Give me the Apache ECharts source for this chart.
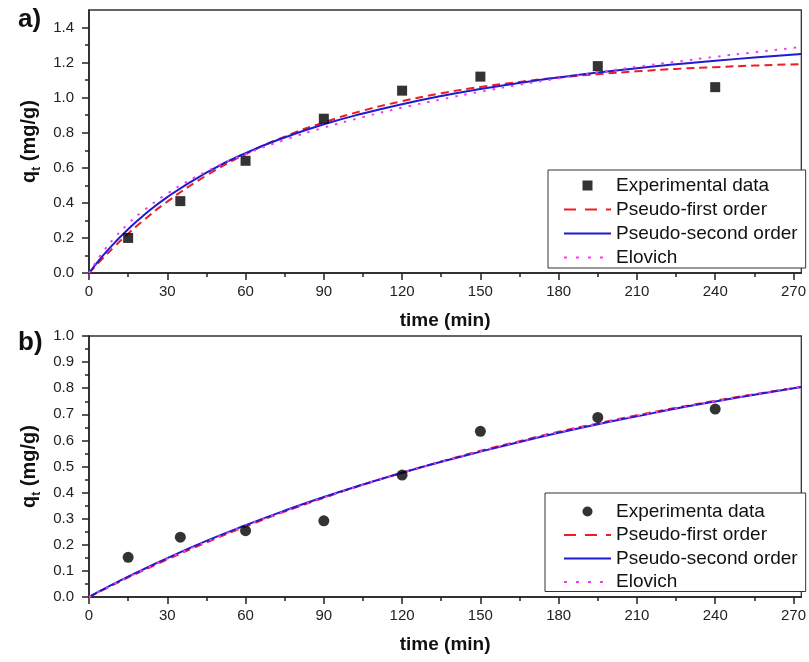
<!DOCTYPE html>
<html>
<head>
<meta charset="utf-8">
<script src="https://cdn.jsdelivr.net/npm/echarts@6/dist/echarts.min.js"></script>
<style>
html,body{margin:0;padding:0;background:#fff;}
#chart{width:809px;height:662px;}
</style>
</head>
<body>
<div id="chart"></div>
<script>
// ---- Data ----
const xMajorTicks = [0, 30, 60, 90, 120, 150, 180, 210, 240, 270];
const xMinorTicks = [15, 45, 75, 105, 135, 165, 195, 225, 255];
const yTopMajorTicks = [0, 0.2, 0.4, 0.6, 0.8, 1.0, 1.2, 1.4];
const yTopMinorTicks = [0.1, 0.3, 0.5, 0.7, 0.9, 1.1, 1.3];
const yBotMajorTicks = [0, 0.1, 0.2, 0.3, 0.4, 0.5, 0.6, 0.7, 0.8, 0.9, 1.0];
const yBotMinorTicks = [0.05, 0.15, 0.25, 0.35, 0.45, 0.55, 0.65, 0.75, 0.85, 0.95];

// panel a) experimental points
const expTimeA = [15, 35, 60, 90, 120, 150, 195, 240];
const expQA = [0.20, 0.41, 0.64, 0.88, 1.04, 1.12, 1.18, 1.06];
// panel b) experimental points
const expTimeB = [15, 35, 60, 90, 120, 150, 195, 240];
const expQB = [0.152, 0.229, 0.254, 0.292, 0.467, 0.635, 0.688, 0.720];

// model curves
const curveTime = [0, 5, 10, 15, 20, 30, 45, 60, 75, 90, 105, 120, 135, 150, 165, 180, 195, 210, 225, 240, 255, 273];
const pfoA = [0, 0.080, 0.154, 0.224, 0.289, 0.407, 0.556, 0.678, 0.778, 0.859, 0.926, 0.980, 1.025, 1.061, 1.090, 1.115, 1.134, 1.150, 1.164, 1.174, 1.183, 1.191];
const psoA = [0, 0.093, 0.175, 0.250, 0.317, 0.433, 0.573, 0.684, 0.773, 0.848, 0.910, 0.963, 1.009, 1.049, 1.084, 1.115, 1.143, 1.168, 1.190, 1.210, 1.229, 1.249];
const eloA = [0, 0.113, 0.204, 0.280, 0.345, 0.453, 0.579, 0.678, 0.759, 0.829, 0.889, 0.943, 0.990, 1.034, 1.074, 1.110, 1.144, 1.176, 1.205, 1.233, 1.259, 1.289];
const pfoB = [0, 0.025, 0.050, 0.075, 0.098, 0.144, 0.209, 0.270, 0.327, 0.380, 0.430, 0.476, 0.519, 0.560, 0.597, 0.633, 0.665, 0.696, 0.725, 0.752, 0.777, 0.805];
const psoB = [0, 0.027, 0.053, 0.078, 0.102, 0.149, 0.215, 0.275, 0.331, 0.383, 0.431, 0.476, 0.518, 0.557, 0.594, 0.629, 0.662, 0.692, 0.722, 0.749, 0.775, 0.805];
const eloB = [0, 0.026, 0.052, 0.077, 0.100, 0.147, 0.212, 0.273, 0.329, 0.381, 0.430, 0.476, 0.518, 0.558, 0.595, 0.631, 0.663, 0.694, 0.723, 0.750, 0.776, 0.805];

const namesA = ['Experimental data', 'Pseudo-first order', 'Pseudo-second order', 'Elovich'];
const namesB = ['Experimenta data', 'Pseudo-first order', 'Pseudo-second order', 'Elovich'];

// ---- Build options ----
const FONT = 'Liberation Sans, Arial, Helvetica, sans-serif';
const AXC = '#222';
const RED = '#f01c24', BLUE = '#1c1cd0', MAG = '#f23cf2';
const zip = (xs, ys) => xs.map((x, i) => [x, ys[i]]);

function xAxes(gi) {
  const base = {
    type: 'value', gridIndex: gi, min: 0, max: 273, interval: 30, position: 'bottom',
    splitLine: {show: false}
  };
  return [
    Object.assign({}, base, {
      axisLine: {show: true, onZero: false, lineStyle: {color: AXC, width: 1.6}},
      axisTick: {show: true, inside: false, length: 7, customValues: xMajorTicks, lineStyle: {color: AXC, width: 1.5}},
      axisLabel: {show: true, customValues: xMajorTicks, margin: 11, fontSize: 15, color: '#222', fontFamily: FONT},
      name: 'time (min)', nameLocation: 'middle', nameGap: 38,
      nameTextStyle: {fontSize: 19, fontWeight: 'bold', color: '#111', fontFamily: FONT}
    }),
    Object.assign({}, base, {
      axisLine: {show: false, onZero: false},
      axisTick: {show: true, inside: false, length: 4, customValues: xMinorTicks, lineStyle: {color: AXC, width: 1.5}},
      axisLabel: {show: false}
    })
  ];
}
function yAxes(gi, max, major, minor) {
  const base = {type: 'value', gridIndex: gi, min: 0, max: max, interval: 0.1, position: 'left', splitLine: {show: false}};
  return [
    Object.assign({}, base, {
      axisLine: {show: true, onZero: false, lineStyle: {color: AXC, width: 1.6}},
      axisTick: {show: true, inside: false, length: 7, customValues: major, lineStyle: {color: AXC, width: 1.5}},
      axisLabel: {show: true, customValues: major, margin: 15, fontSize: 15, color: '#222', fontFamily: FONT,
        formatter: v => v.toFixed(1)},
      name: '{q|q}{t|t}{q| (mg/g)}', nameLocation: 'middle', nameGap: 46, nameRotate: 90,
      nameTextStyle: {
        color: '#111', fontFamily: FONT,
        rich: {
          q: {fontSize: 20, fontWeight: 'bold', fontFamily: FONT, color: '#111', lineHeight: 26},
          t: {fontSize: 12, fontWeight: 'bold', fontFamily: FONT, color: '#111', lineHeight: 12, verticalAlign: 'bottom'}
        }
      }
    }),
    Object.assign({}, base, {
      axisLine: {show: false, onZero: false},
      axisTick: {show: true, inside: false, length: 4, customValues: minor, lineStyle: {color: AXC, width: 1.5}},
      axisLabel: {show: false}
    })
  ];
}

function lineSeries(name, xi, yi, data, color, type, z) {
  return {
    name: name, type: 'line', xAxisIndex: xi, yAxisIndex: yi, data: data,
    smooth: true, symbol: 'none', showSymbol: false, z: z, silent: true,
    lineStyle: {color: color, width: 2, type: type},
    itemStyle: {color: color}
  };
}

const hiddenSymbol = {color: 'rgba(0,0,0,0)', borderWidth: 0, opacity: 0};
function legendData(names, scatterIcon) {
  return [
    {name: names[0], icon: scatterIcon, itemStyle: {color: '#000'}},
    {name: names[1], lineStyle: {type: [12, 9]}, itemStyle: hiddenSymbol},
    {name: names[2], itemStyle: hiddenSymbol},
    {name: names[3], lineStyle: {type: [3, 9]}, itemStyle: hiddenSymbol}
  ];
}

const legendCommon = {
  orient: 'vertical', itemWidth: 47, itemHeight: 10, selectedMode: false,
  borderColor: '#333', borderWidth: 1, backgroundColor: '#fff',
  textStyle: {fontSize: 19, color: '#111', fontFamily: FONT, lineHeight: 18},
  symbolKeepAspect: true
};

const option = {
  backgroundColor: '#fff',
  animation: false,
  title: [
    {text: 'a)', left: 13, top: 2, textStyle: {fontSize: 26, fontWeight: 'bold', color: '#111', fontFamily: FONT}},
    {text: 'b)', left: 13, top: 325, textStyle: {fontSize: 26, fontWeight: 'bold', color: '#111', fontFamily: FONT}}
  ],
  grid: [
    {left: 89, top: 10, width: 714, height: 263, show: true, borderColor: '#333', borderWidth: 1.3, backgroundColor: 'transparent'},
    {left: 89, top: 336, width: 714, height: 261, show: true, borderColor: '#333', borderWidth: 1.3, backgroundColor: 'transparent'}
  ],
  xAxis: [...xAxes(0), ...xAxes(1)],
  yAxis: [...yAxes(0, 1.5, yTopMajorTicks, yTopMinorTicks), ...yAxes(1, 1.0, yBotMajorTicks, yBotMinorTicks)],
  legend: [
    Object.assign({}, legendCommon, {
      left: 548, top: 170, itemGap: 5, padding: [6, 8, 1, 15],
      data: legendData(namesA, 'path://M0,0h10v10h-10z')
    }),
    Object.assign({}, legendCommon, {
      left: 545, top: 493, itemGap: 4.5, padding: [9, 8, 0, 18],
      data: legendData(namesB, 'circle')
    })
  ],
  series: [
    lineSeries(namesA[1], 0, 0, zip(curveTime, pfoA), RED, [8, 5], 2),
    lineSeries(namesA[2], 0, 0, zip(curveTime, psoA), BLUE, 'solid', 3),
    lineSeries(namesA[3], 0, 0, zip(curveTime, eloA), MAG, [2.5, 7], 4),
    {name: namesA[0], type: 'scatter', xAxisIndex: 0, yAxisIndex: 0, data: zip(expTimeA, expQA),
      symbol: 'rect', symbolSize: 10, itemStyle: {color: '#000'}, z: 6, silent: true},

    lineSeries(namesB[1], 2, 2, zip(curveTime, pfoB), RED, [8, 5], 2),
    lineSeries(namesB[2], 2, 2, zip(curveTime, psoB), BLUE, 'solid', 3),
    lineSeries(namesB[3], 2, 2, zip(curveTime, eloB), MAG, [2.5, 7], 4),
    {name: namesB[0], type: 'scatter', xAxisIndex: 2, yAxisIndex: 2, data: zip(expTimeB, expQB),
      symbol: 'circle', symbolSize: 11, itemStyle: {color: '#000'}, z: 6, silent: true}
  ]
};

const chart = echarts.init(document.getElementById('chart'), null, {renderer: 'canvas'});
chart.setOption(option);
</script>
</body>
</html>
